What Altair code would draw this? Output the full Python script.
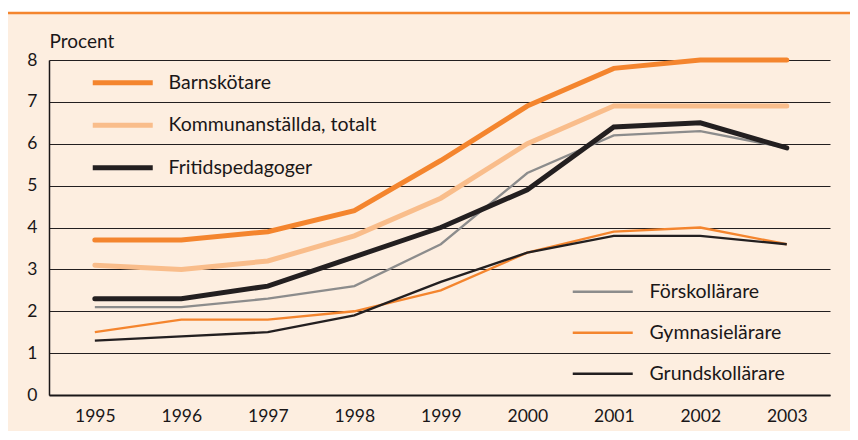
import altair as alt
import pandas as pd

years = [1995, 1996, 1997, 1998, 1999, 2000, 2001, 2002, 2003]

barnskotare = [3.7, 3.7, 3.9, 4.4, 5.6, 6.9, 7.8, 8.0, 8.0]
kommunanstallda = [3.1, 3.0, 3.2, 3.8, 4.7, 6.0, 6.9, 6.9, 6.9]
fritidspedagoger = [2.3, 2.3, 2.6, 3.3, 4.0, 4.9, 6.4, 6.5, 5.9]
forskollarare = [2.1, 2.1, 2.3, 2.6, 3.6, 5.3, 6.2, 6.3, 5.9]
gymnasielarare = [1.5, 1.8, 1.8, 2.0, 2.5, 3.4, 3.9, 4.0, 3.6]
grundskollarare = [1.3, 1.4, 1.5, 1.9, 2.7, 3.4, 3.8, 3.8, 3.6]

thick_names = ["Barnskötare", "Kommunanställda, totalt", "Fritidspedagoger"]
thick_values = [barnskotare, kommunanstallda, fritidspedagoger]
thick_colors = ["#F4852E", "#F9BD8B", "#231F20"]

thin_names = ["Förskollärare", "Gymnasielärare", "Grundskollärare"]
thin_values = [forskollarare, gymnasielarare, grundskollarare]
thin_colors = ["#8C8C8C", "#F4852E", "#231F20"]

y_ticks = [0, 1, 2, 3, 4, 5, 6, 7, 8]

FONT = "Lato"
INK = "#1A1718"
BG = "#FDEEE0"


def long(names, values):
    rows = []
    for n, vals in zip(names, values):
        for yr, v in zip(years, vals):
            rows.append({"year": yr, "value": v, "series": n})
    return pd.DataFrame(rows)


df_thick = long(thick_names, thick_values)
df_thin = long(thin_names, thin_values)

x_enc = alt.X(
    "year:Q",
    scale=alt.Scale(domain=[1994.47, 2003.5], nice=False, zero=False),
    axis=alt.Axis(
        values=years, format="d", title=None, grid=False, ticks=False,
        labelPadding=12, labelFontSize=17.5, labelColor=INK, labelFont=FONT,
        domainColor=INK, domainWidth=2, labelFlush=False,
    ),
)
y_enc = alt.Y(
    "value:Q",
    scale=alt.Scale(domain=[0, 8], nice=False),
    axis=alt.Axis(
        values=y_ticks, title="Procent", titleAngle=0, titleX=0, titleY=-9,
        titleAlign="left", titleBaseline="bottom", titleFontWeight="normal",
        titleFontSize=19, titleFont=FONT, titleColor=INK,
        ticks=False, labelPadding=12, labelFontSize=17.5, labelFont=FONT, labelColor=INK,
        grid=True, gridColor="#231F20", gridWidth=1,
        domainColor=INK, domainWidth=1.5,
    ),
)

sym_path = "M-6,0H6"


def legend(x, y, sw, off, rp):
    return alt.Legend(
        title=None, orient="none", legendX=x, legendY=y, padding=0,
        symbolType=sym_path, symbolSize=100, symbolStrokeWidth=sw,
        labelFontSize=19.5, labelFont=FONT, labelColor=INK, labelOffset=off,
        labelLimit=400, rowPadding=rp,
    )


top_strip = alt.Chart(pd.DataFrame({"a": [0]})).mark_rect(
    color="white", clip=False
).encode(x=alt.value(-60), x2=alt.value(830), y=alt.value(-62), y2=alt.value(-47))

thin = alt.Chart(df_thin).mark_line(strokeWidth=2.3).encode(
    x=x_enc, y=y_enc,
    color=alt.Color("series:N", scale=alt.Scale(domain=thin_names, range=thin_colors),
                    legend=legend(544, 222, 2.5, 37, 20)),
    order=alt.Order("year:Q"),
)

thick = alt.Chart(df_thick).mark_line(strokeWidth=5, strokeCap="round").encode(
    x=x_enc, y=y_enc,
    color=alt.Color("series:N", scale=alt.Scale(domain=thick_names, range=thick_colors),
                    legend=legend(64, 13, 5, 36, 21.5)),
    order=alt.Order("year:Q"),
)

top_rule = alt.Chart(pd.DataFrame({"a": [0]})).mark_rule(
    color="#F4852E", strokeWidth=2.5, clip=False
).encode(x=alt.value(-60), x2=alt.value(830), y=alt.value(-47))

chart = alt.layer(top_strip, thin, thick, top_rule).resolve_scale(color="independent").properties(
    width=781, height=335,
    autosize=alt.AutoSizeParams(type="none"),
    padding={"left": 41, "top": 52, "right": 20, "bottom": 36},
    background=BG,
).configure_view(stroke=None)

chart.save("out.html", embed_options={"renderer": "svg", "actions": False})
